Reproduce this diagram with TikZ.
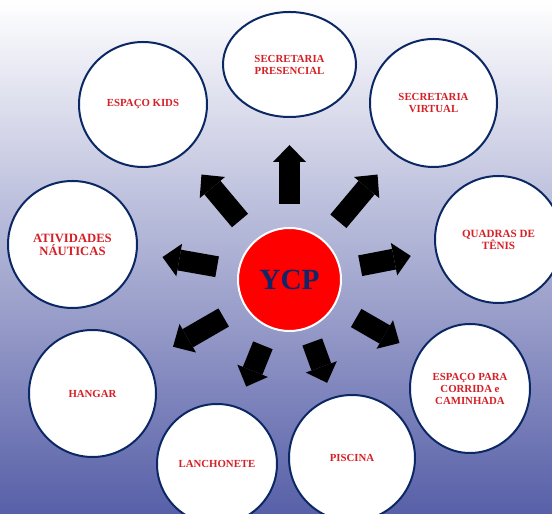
\documentclass[tikz,border=0pt]{standalone}
\usepackage{fontspec}
\setmainfont{Liberation Serif}
\usetikzlibrary{shapes.geometric,arrows.meta,calc}
\definecolor{navy}{RGB}{12,40,100}
\definecolor{txtred}{RGB}{212,32,38}
\definecolor{ycpblue}{RGB}{16,38,105}
\definecolor{bgmid}{RGB}{190,192,224}
\definecolor{bgbottom}{RGB}{88,96,168}

\begin{document}
\begin{tikzpicture}[x=0.75pt,y=0.75pt]
      \tikzset{area circle/.style={ellipse,
          draw=navy,
          line width=1.5pt,
          fill=white,
          inner sep=0pt,
          text=txtred,
          align=center,
          font=\bfseries\fontsize{8.1}{9}\selectfont},
        block arrow/.style={line width=15.75pt,
          -{Triangle[width=24.75pt,length=12.75pt,line width=0pt]}}
      }
      \useasboundingbox (0,0) rectangle (552,513);
      \clip (0,0) rectangle (552,513);
      \shade [top color=white, middle color=bgmid, bottom color=bgbottom] (0,0) rectangle (552,513);
      \node [circle, fill=red, draw=white, line width=1.5pt, minimum size=77.25pt, text=ycpblue,
        font=\bfseries\fontsize{22}{26}\selectfont] (ycp) at (289.5,233.5) {YCP};
      \node [area circle, minimum width=99.75pt, minimum height=78.75pt] (secpres) at (289.5,448.5) {SECRETARIA\\PRESENCIAL};
      \node [area circle, minimum width=96pt, minimum height=93.75pt] (kids) at (143,408.5) {ESPAÇO KIDS};
      \node [area circle, minimum width=95.25pt, minimum height=96pt] (secvirt) at (433.5,410) {SECRETARIA\\VIRTUAL};
      \node [area circle, minimum size=95.25pt, font=\bfseries\fontsize{8.3}{9}\selectfont] (tenis) at (498.5,273.5) {QUADRAS DE\\TÊNIS};
      \node [area circle, minimum width=90pt, minimum height=96.75pt] (corrida) at (470,124.5) {ESPAÇO PARA\\CORRIDA e\\CAMINHADA};
      \node [area circle, minimum width=96.75pt, minimum height=95.25pt, font=\bfseries\fontsize{9.5}{9.8}\selectfont] (nauticas) at (72.5,268.5) {ATIVIDADES\\NÁUTICAS};
      \node [area circle, minimum size=95.25pt] (hangar) at (92.5,119.5) {HANGAR};
      \node [area circle, minimum size=90pt] (lanche) at (217,49) {LANCHONETE};
      \node [area circle, minimum size=94.5pt] (piscina) at (352,55) {PISCINA};
      \draw [block arrow] ($(ycp)+(90:75.5)$) -- ($(ycp)+(90:134.5)$);
      \draw [block arrow] ($(ycp)+(50:76)$) -- ($(ycp)+(50:137)$);
      \draw [block arrow] ($(ycp)+(130:77)$) -- ($(ycp)+(130:137)$);
      \draw [block arrow] ($(ycp)+(170:73.5)$) -- ($(ycp)+(170:129)$);
      \draw [block arrow] ($(ycp)+(11:72)$) -- ($(ycp)+(11:123.5)$);
      \draw [block arrow] ($(ycp)+(210:76)$) -- ($(ycp)+(210:134.5)$);
      \draw [block arrow] ($(ycp)+(330:77)$) -- ($(ycp)+(330:127)$);
      \draw [block arrow] ($(ycp)+(248:71)$) -- ($(ycp)+(248:115.5)$);
      \draw [block arrow] ($(ycp)+(290:66.5)$) -- ($(ycp)+(290:110)$);

    \end{tikzpicture}
\end{document}
